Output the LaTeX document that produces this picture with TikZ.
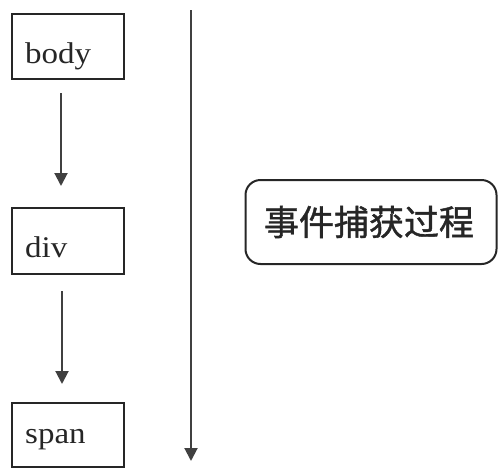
\documentclass[tikz,border=0pt]{standalone}
\usepackage{fontspec}
\setmainfont{Liberation Serif}
\newfontfamily\cjk[FakeBold=1.2]{Noto Sans CJK SC}
\usetikzlibrary{arrows.meta,calc}
\begin{document}
\begin{tikzpicture}[x=1pt,y=-1pt,
  box/.style={draw=black!85,line width=2pt,inner sep=0pt},
  lbl/.style={anchor=base west,inner sep=0pt,text=black!85,font=\fontsize{30}{30}\selectfont},
  arr/.style={draw=black!75,line width=2pt,-{Triangle[length=13pt,width=13pt]}}]
\useasboundingbox (0,0) rectangle (498,469);
% boxes
\node[box,minimum width=112pt,minimum height=65pt] (body) at (68,46.5) {};
\node[box,minimum width=112pt,minimum height=66pt] (div) at (68,241) {};
\node[box,minimum width=112pt,minimum height=64pt] (span) at (68,435) {};
\node[lbl] (tbody) at (25,63) {\scalebox{1.1}[1]{body}};
\node[lbl] (tdiv) at (25,257) {\scalebox{1.1}[1]{div}};
\node[lbl] (tspan) at (25,443) {\scalebox{1.1}[1]{span}};
% arrows between boxes
\draw[arr] ($(body.south)+(-7,13)$) -- ($(div.north)+(-7,-21)$);
\draw[arr] ($(div.south)+(-6,16)$) -- ($(span.north)+(-6,-18)$);
% long arrow
\coordinate (ltop) at (191,10);
\coordinate (lbot) at (191,461);
\draw[arr] (ltop) -- (lbot);
% rounded box
\node[draw=black!85,line width=2pt,rounded corners=15pt,minimum width=251pt,minimum height=84pt,inner sep=0pt] (cap) at (371,222) {};
\node[inner sep=0pt,text=black!85,font=\cjk\fontsize{35}{35}\selectfont] (tcap) at (369,222) {事件捕获过程};
\end{tikzpicture}
\end{document}
